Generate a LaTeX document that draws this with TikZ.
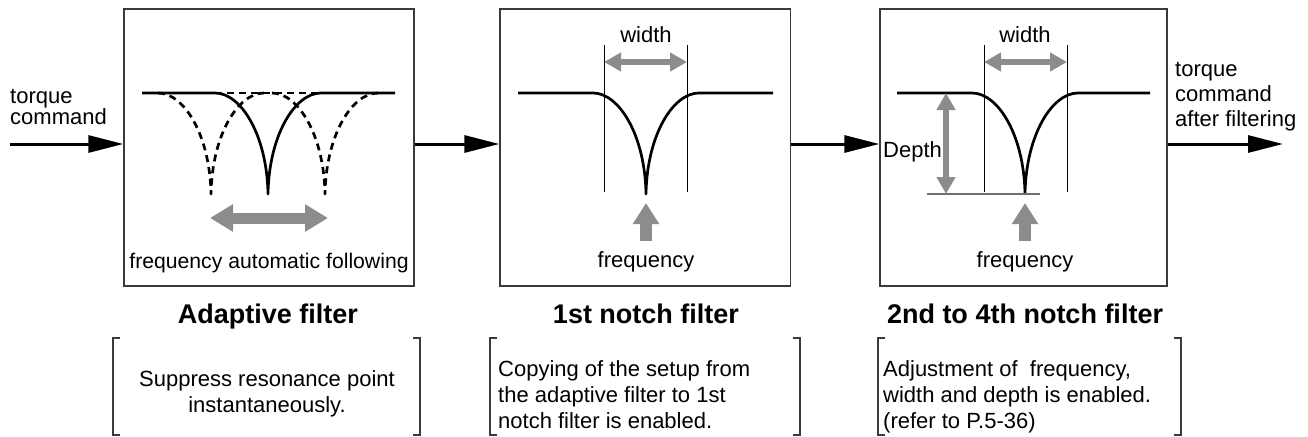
\documentclass[tikz,border=0pt]{standalone}
\usepackage{fontspec}
\setmainfont{Liberation Sans}
\usetikzlibrary{arrows.meta}
\definecolor{arrgray}{HTML}{8C8C8C}
\definecolor{boxgray}{HTML}{3A3A3A}
\tikzset{
  fbox/.style={draw=boxgray, line width=1.4pt, minimum height=277pt, inner sep=0pt},
  flow/.style={line width=3pt, -{Triangle[length=35pt,width=17pt]}},
  curve/.style={line width=2.7pt, line join=round},
  dcurve/.style={curve, dash pattern=on 7pt off 5pt},
  guide/.style={line width=1pt},
  bigarrow/.style={draw=arrgray, line width=11pt, {Triangle[length=23pt,width=26pt]}-{Triangle[length=23pt,width=26pt]}},
  smallarrow/.style={draw=arrgray, line width=6pt, {Triangle[length=17pt,width=18pt]}-{Triangle[length=17pt,width=18pt]}},
  uparrow/.style={draw=arrgray, line width=12pt, -{Triangle[length=21pt,width=25pt]}},
  lbl/.style={font=\fontsize{22}{26}\selectfont, inner sep=0pt},
  ttl/.style={font=\fontsize{27}{32}\selectfont\bfseries, inner sep=0pt},
  brk/.style={draw=boxgray, line width=1.3pt},
}
\begin{document}
\begin{tikzpicture}[x=1pt,y=-1pt]
\useasboundingbox (0,0) rectangle (1308,436);

% boxes
\node[fbox, minimum width=290pt] (b1) at (269,147.5) {};
\node[fbox, minimum width=290.5pt] (b2) at (645.3,147.5) {};
\node[fbox, minimum width=287pt] (b3) at (1023.5,147.5) {};

% flow arrows
\coordinate (in) at (10,144);
\coordinate (out) at (1283,144);
\draw[flow] (in) -- (in -| b1.west);
\draw[flow] (b1.east |- in) -- (b2.west |- in);
\draw[flow] (b2.east |- in) -- (b3.west |- in);
\draw[flow] (b3.east |- in) -- (out);

% side labels
\node[lbl, anchor=base west] (tq1) at (10,103) {torque};
\node[lbl, anchor=base west] (tq2) at (10,124) {command};
\node[lbl, anchor=base west] (to1) at (1175,76) {torque};
\node[lbl, anchor=base west] (to2) at (1175,101) {command};
\node[lbl, anchor=base west] (to3) at (1175,126) {after filtering};

% box 1: adaptive filter
\begin{scope}[shift={(268,93)}]
  \draw[dcurve] (-110,0) .. controls (-84,0) and (-58,42) .. (-57,101)
                .. controls (-56,42) and (-30,0) .. (-4,0);
  \draw[dcurve] (4,0) .. controls (30,0) and (56,42) .. (57,101)
                .. controls (58,42) and (84,0) .. (110,0);
  \draw[dcurve] (-53,0) -- (53,0);
  \draw[curve] (-126,0) -- (-53,0) .. controls (-27,0) and (-1,42) .. (0,101)
               .. controls (1,42) and (27,0) .. (53,0) -- (127,0);
  \coordinate (fa1) at (-58,125);
  \coordinate (fa2) at (60,125);
  \draw[bigarrow] (fa1) -- (fa2);
  \node[lbl, font=\fontsize{21.2}{25}\selectfont, anchor=base] (fq1) at (1,175) {frequency automatic following};
\end{scope}

% box 2: 1st notch
\begin{scope}[shift={(646,93)}]
  \draw[curve] (-128,0) -- (-53,0) .. controls (-27,0) and (-1,42) .. (0,101)
               .. controls (1,42) and (27,0) .. (53,0) -- (127,0);
  \coordinate (g2a) at (-42,-48);
  \coordinate (g2b) at (41,-48);
  \draw[guide] (g2a) -- ++(0,147);
  \draw[guide] (g2b) -- ++(0,147);
  \draw[smallarrow] (-42,-31) -- (41,-31);
  \node[lbl, anchor=base] (w2) at (0,-50) {width};
  \coordinate (u2a) at (0,148);
  \coordinate (u2b) at (0,110);
  \draw[uparrow] (u2a) -- (u2b);
  \node[lbl, anchor=base] (fq2) at (0,174) {frequency};
\end{scope}

% box 3: 2nd to 4th notch
\begin{scope}[shift={(1025,93)}]
  \draw[curve] (-128,0) -- (-53,0) .. controls (-27,0) and (-1,42) .. (0,101)
               .. controls (1,42) and (27,0) .. (53,0) -- (125,0);
  \coordinate (g3a) at (-41,-48);
  \coordinate (g3b) at (42,-48);
  \draw[guide] (g3a) -- ++(0,147);
  \draw[guide] (g3b) -- ++(0,147);
  \draw[smallarrow] (-41,-31) -- (42,-31);
  \node[lbl, anchor=base] (w3) at (0,-50) {width};
  \draw[draw=arrgray!80!black, line width=1.3pt] (-98,101) -- (15,101);
  \coordinate (d3a) at (-79,0);
  \coordinate (d3b) at (-79,101);
  \draw[smallarrow] (d3a) -- (d3b);
  \node[lbl, anchor=base west] (dp) at (-142,64) {Depth};
  \coordinate (u3a) at (0,148);
  \coordinate (u3b) at (0,110);
  \draw[uparrow] (u3a) -- (u3b);
  \node[lbl, anchor=base] (fq3) at (0,174) {frequency};
\end{scope}

% titles
\node[ttl, anchor=base] (t1) at (268,323) {Adaptive filter};
\node[ttl, anchor=base] (t2) at (646,323) {1st notch filter};
\node[ttl, anchor=base] (t3) at (1025,323) {2nd to 4th notch filter};

% brackets
\draw[brk] (120,338) -- (113,338) -- (113,435) -- (120,435);
\draw[brk] (413,338) -- (420,338) -- (420,435) -- (413,435);
\draw[brk] (497,338) -- (490,338) -- (490,435) -- (497,435);
\draw[brk] (793,338) -- (800,338) -- (800,435) -- (793,435);
\draw[brk] (885,338) -- (878,338) -- (878,435) -- (885,435);
\draw[brk] (1174,338) -- (1181,338) -- (1181,435) -- (1174,435);

% descriptions
\node[lbl, anchor=base] (s1a) at (267,386) {Suppress resonance point};
\node[lbl, anchor=base] (s1b) at (267,412) {instantaneously.};
\node[lbl, anchor=base west] (s2a) at (498,376) {Copying of the setup from};
\node[lbl, anchor=base west] (s2b) at (498,402) {the adaptive filter to 1st};
\node[lbl, anchor=base west] (s2c) at (498,428) {notch filter is enabled.};
\node[lbl, anchor=base west] (s3a) at (883,376) {Adjustment of \ frequency,};
\node[lbl, anchor=base west] (s3b) at (883,402) {width and depth is enabled.};
\node[lbl, anchor=base west] (s3c) at (883,428) {(refer to P.5-36)};
\end{tikzpicture}
\end{document}
